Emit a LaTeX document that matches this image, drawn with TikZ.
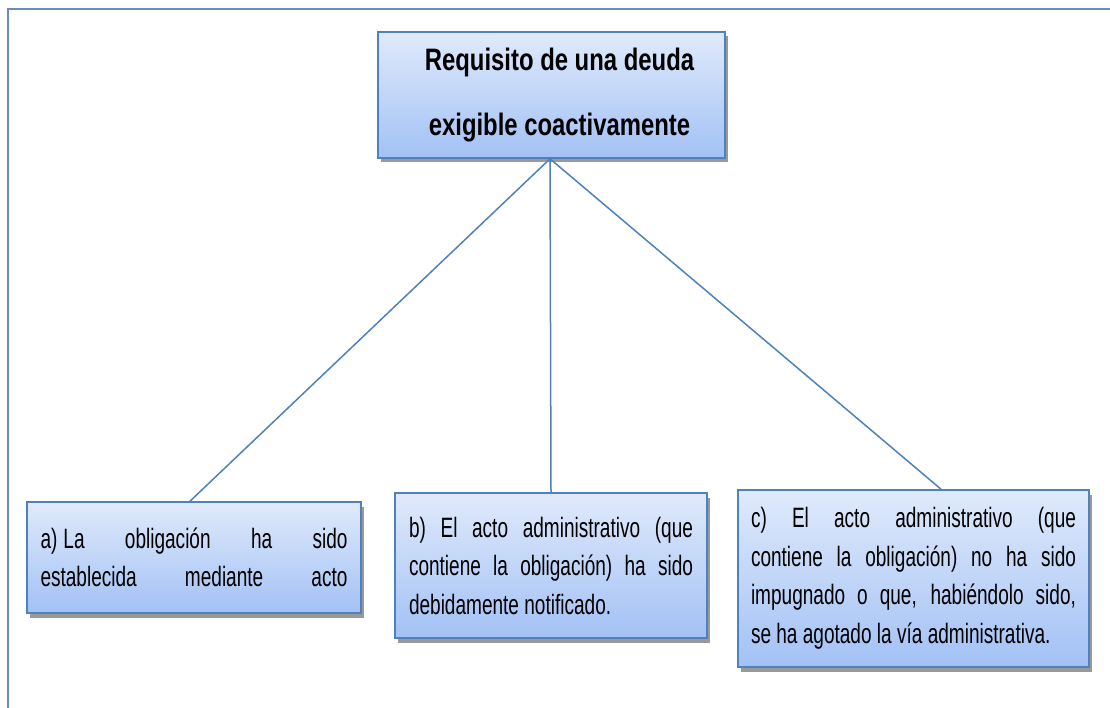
\documentclass[tikz,border=0pt]{standalone}
\usepackage{fontspec}
\setmainfont{Liberation Sans}
\newfontfamily\bodyfont{Liberation Sans}[FakeStretch=0.68]
\newfontfamily\titlefont{Liberation Sans}[FakeStretch=0.77]
\usetikzlibrary{shadows}
\definecolor{boxline}{HTML}{4F81BD}
\definecolor{boxtop}{HTML}{E0EAFB}
\definecolor{boxbot}{HTML}{A2C1F5}
\definecolor{framecol}{HTML}{6B8CBE}
\hyphenpenalty=10000
\begin{document}
\begin{tikzpicture}[x=1pt,y=-1pt,
  box/.style={rectangle, draw=boxline, line width=1.6pt, top color=boxtop, bottom color=boxbot,
    drop shadow={shadow xshift=2.5pt, shadow yshift=-4.5pt, opacity=0.4, fill=black},
    inner sep=0pt},
  bodytext/.style={font=\bodyfont\fontsize{28pt}{38.5pt}\selectfont, align=justify},
  titletext/.style={font=\titlefont\bfseries\fontsize{31pt}{65pt}\selectfont, align=center},
  link/.style={draw=boxline, line width=1.5pt}]
\useasboundingbox (0,0) rectangle (1110,708);
\fill[white] (0,0) rectangle (1110,708);
% frame
\draw[framecol, line width=1.8pt] (8,708) -- (8,9) -- (1110,9);
% nodes
\node[box, titletext, minimum width=347pt, minimum height=126pt] (top) at (551.5,95)
  {\hspace*{16pt}Requisito de una deuda\\\hspace*{16pt}exigible coactivamente};
\node[box, bodytext, minimum width=334pt, minimum height=111pt, text width=307pt] (a) at (194,557.5)
  {a)\nobreak\hspace{6pt}La obligación ha sido\linebreak establecida\hfill mediante\hfill acto};
\node[box, bodytext, minimum width=312pt, minimum height=145pt, text width=284pt] (b) at (551,565.5)
  {b) El acto administrativo (que\linebreak contiene la obligación) ha sido\linebreak debidamente notificado.};
\node[box, bodytext, minimum width=351pt, minimum height=177pt, text width=325pt] (c) at (913.5,578.5)
  {c) El acto administrativo (que\linebreak contiene la obligación) no ha sido\linebreak impugnado o que, habiéndolo sido,\linebreak se ha agotado la vía administrativa.};
% connectors
\draw[link] ([xshift=-1.5pt]top.south) -- ([xshift=-4pt]a.north);
\draw[link] ([xshift=-1.5pt]top.south) -- (b.north);
\draw[link] ([xshift=-1.5pt]top.south) -- ([xshift=27.5pt]c.north);
\end{tikzpicture}
\end{document}
